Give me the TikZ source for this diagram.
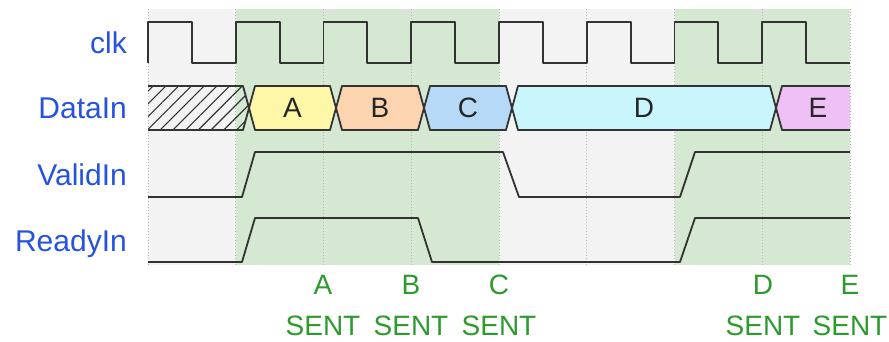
\documentclass[tikz,border=0pt]{standalone}
\usepackage{fontspec}
\setmainfont{Liberation Sans}
\usepackage{tikz}
\usetikzlibrary{positioning,calc,patterns.meta}
\usepackage{xcolor}
\definecolor{sigblue}{HTML}{2552DE}
\definecolor{sentgreen}{HTML}{2C9A2C}
\definecolor{okzone}{HTML}{D5E8D1}
\definecolor{idlezone}{HTML}{F3F3F3}
\definecolor{wire}{HTML}{333333}
\definecolor{dataA}{HTML}{FFF7A8}
\definecolor{dataB}{HTML}{FCD5B0}
\definecolor{dataC}{HTML}{B7D9F8}
\definecolor{dataD}{HTML}{C9F6FC}
\definecolor{dataE}{HTML}{EFC0F5}
\tikzset{
  signame/.style={anchor=base east,inner sep=0pt,text=sigblue,font=\fontsize{30}{32}\selectfont},
  sentlbl/.style={anchor=base,inner sep=0pt,text=sentgreen,font=\fontsize{28}{30}\selectfont},
  buslbl/.style={inner sep=0pt,text=black!85,font=\fontsize{28}{30}\selectfont},
  wave/.style={draw=wire,line width=1.8pt,line join=round},
  gridline/.style={draw=black!28,dotted,line width=1pt},
  busval/.style={wave,fill=#1},
}

\begin{document}
\begin{tikzpicture}[x=1pt,y=-1pt]
\useasboundingbox (0,0) rectangle (889,341);

% zones
\fill[idlezone] (148,9) rectangle (850,265);
\fill[okzone] (236,9) rectangle (499,265);
\fill[okzone] (675,9) rectangle (850,265);
\foreach \i in {0,...,8}
  \draw[gridline] ({148+87.75*\i},9) -- ({148+87.75*\i},265);

% signal names
\node[signame] (clk) at (127,53) {clk};
\node[signame] (din) at (127,118) {DataIn};
\node[signame] (vin) at (127,185) {ValidIn};
\node[signame] (rin) at (127,251) {ReadyIn};

% clock
\draw[wave] (148,63) \foreach \i in {0,...,7} {
  -- ++(0,-41) -- ++(43.875,0) -- ++(0,41) -- ++(43.875,0) };

% data bus
\path[pattern={Lines[angle=45,distance=9pt,line width=1.1pt]},pattern color=wire]
  (148,86) -- (243,86) -- (249,108) -- (243,130) -- (148,130) -- cycle;
\draw[wave] (148,86) -- (243,86) -- (249,108) -- (243,130) -- (148,130);
\foreach \a/\b/\c/\v in {249/336/dataA/A,336/424/dataB/B,424/512/dataC/C,512/776/dataD/D} {
  \draw[busval=\c] (\a,108) -- (\a+6,86) -- (\b-6,86) -- (\b,108) -- (\b-6,130) -- (\a+6,130) -- cycle;
  \node[buslbl] (val\v) at ({(\a+\b)/2},108) {\v};
}
\fill[dataE] (776,108) -- (782,86) -- (850,86) -- (850,130) -- (782,130) -- cycle;
\draw[wave] (850,86) -- (782,86) -- (776,108) -- (782,130) -- (850,130);
\node[buslbl] (valE) at (818,108) {E};

% handshake
\draw[wave] (148,197) -- (242,197) -- (255,152) -- (503,152) -- (519,197)
  -- (680,197) -- (695,152) -- (850,152);
\draw[wave] (148,262) -- (242,262) -- (255,218) -- (418,218) -- (432,262)
  -- (680,262) -- (695,218) -- (850,218);

% transfers
\foreach \x/\v in {323/A,411/B,499/C,763/D,850/E} {
  \node[sentlbl] (tx\v) at (\x,294) {\v};
  \node[sentlbl] (sent\v) at (\x,335) {SENT};
}
\end{tikzpicture}
\end{document}
